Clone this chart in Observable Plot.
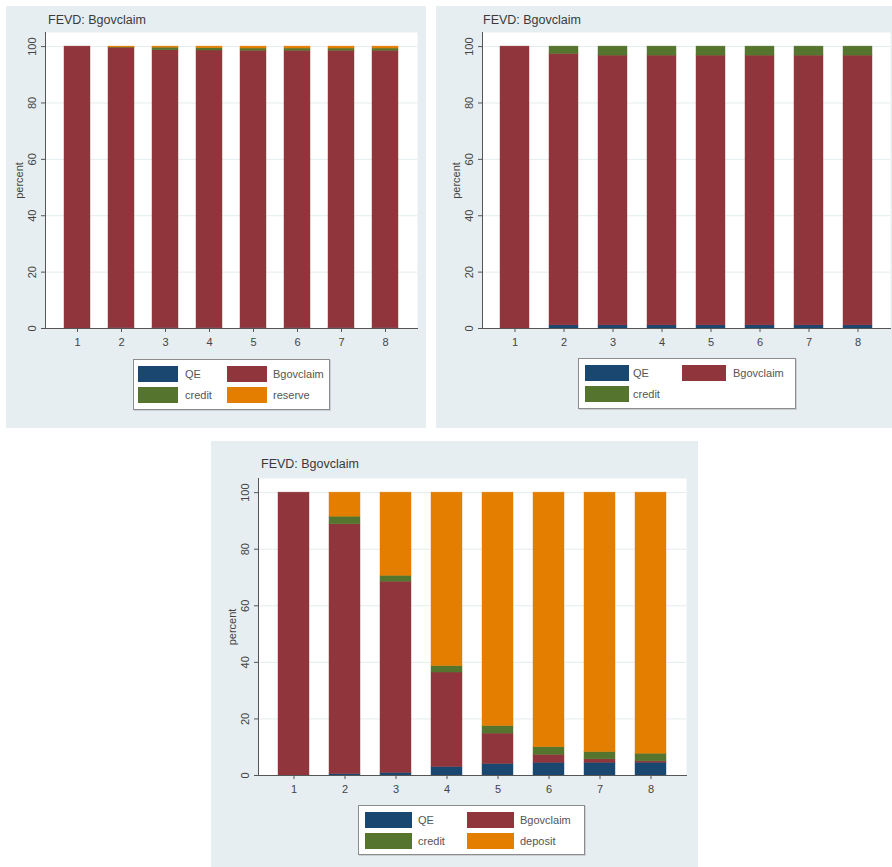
<!DOCTYPE html>
<html>
<head>
<meta charset="utf-8">
<script src="https://cdn.jsdelivr.net/npm/d3@7"></script>
<script src="https://cdn.jsdelivr.net/npm/@observablehq/plot@0.6"></script>
<style>
  html, body { margin: 0; padding: 0; background: #ffffff; }
  #root { position: relative; width: 892px; height: 867px; overflow: hidden; font-family: "Liberation Sans", Arial, sans-serif; }
  .panel { position: absolute; background: #e6eef1; }
  .title { position: absolute; font-size: 12.5px; color: #3a3a3a; white-space: nowrap; }
  .plot { position: absolute; }
  .legend { position: absolute; background: #ffffff; border: 1px solid #8c8c8c; box-shadow: 1px 1px 0 #c9cfd2; }
  .sw { position: absolute; height: 16px; }
  .lt { position: absolute; font-size: 11px; color: #555; line-height: 16px; white-space: nowrap; }
</style>
</head>
<body>
<div id="root"></div>
<script>
// ---- data ----
const periods = [1, 2, 3, 4, 5, 6, 7, 8];
const yTicks = [0, 20, 40, 60, 80, 100];
const seriesColors = { QE: "#1a476f", Bgovclaim: "#90353b", credit: "#55752f", reserve: "#e37e00", deposit: "#e37e00" };

// Panel A: QE, Bgovclaim, credit, reserve
const a_keys = ["QE", "Bgovclaim", "credit", "reserve"];
const a_QE = [0, 0.1, 0.1, 0.1, 0.1, 0.1, 0.1, 0.1];
const a_Bgovclaim = [100, 99.5, 98.6, 98.5, 98.4, 98.4, 98.4, 98.4];
const a_credit = [0, 0.1, 0.9, 0.8, 0.8, 0.8, 0.8, 0.8];
const a_reserve = [0, 0.3, 0.4, 0.6, 0.7, 0.7, 0.7, 0.7];

// Panel B: QE, Bgovclaim, credit
const b_keys = ["QE", "Bgovclaim", "credit"];
const b_QE = [0, 1.1, 1.1, 1.1, 1.1, 1.1, 1.1, 1.1];
const b_Bgovclaim = [100, 96.3, 95.7, 95.7, 95.7, 95.7, 95.7, 95.7];
const b_credit = [0, 2.6, 3.2, 3.2, 3.2, 3.2, 3.2, 3.2];

// Panel C: QE, Bgovclaim, credit, deposit
const c_keys = ["QE", "Bgovclaim", "credit", "deposit"];
const c_QE = [0, 0.5, 0.9, 3.0, 4.1, 4.5, 4.5, 4.5];
const c_Bgovclaim = [100, 88.3, 67.6, 33.4, 10.7, 2.8, 1.2, 0.5];
const c_credit = [0, 2.7, 2.1, 2.3, 2.7, 2.7, 2.6, 2.7];
const c_deposit = [0, 8.5, 29.4, 61.3, 82.5, 90.0, 91.7, 92.3];

const root = document.getElementById("root");

function tidy(keys, arrays) {
  const rows = [];
  keys.forEach((k, i) => periods.forEach((p, j) => rows.push({ period: p, series: k, value: arrays[i][j] })));
  return rows;
}

function makePanel(cfg) {
  const bg = document.createElement("div");
  bg.className = "panel";
  Object.assign(bg.style, { left: cfg.bg[0] + "px", top: cfg.bg[1] + "px", width: cfg.bg[2] + "px", height: cfg.bg[3] + "px" });
  root.appendChild(bg);

  const t = document.createElement("div");
  t.className = "title";
  t.textContent = "FEVD: Bgovclaim";
  Object.assign(t.style, { left: cfg.title[0] + "px", top: cfg.title[1] + "px" });
  root.appendChild(t);

  const data = tidy(cfg.keys, cfg.arrays);
  const chart = Plot.plot({
    width: cfg.svg[2],
    height: cfg.svg[3],
    marginLeft: cfg.m[0], marginRight: cfg.m[1], marginTop: cfg.m[2], marginBottom: cfg.m[3],
    style: { background: "transparent", fontFamily: "Liberation Sans, Arial, sans-serif", fontSize: "11px", color: "#444" },
    x: { domain: periods, paddingInner: 0.4, paddingOuter: cfg.po, label: null },
    y: { domain: [0, 105], label: null },
    color: { domain: cfg.keys, range: cfg.keys.map(k => seriesColors[k]) },
    marks: [
      Plot.frame({ fill: "white", stroke: null }),
      Plot.ruleY(yTicks.slice(1), { stroke: "#e3ecef", strokeWidth: 1 }),
      Plot.barY(data, { x: "period", y: "value", fill: "series", stroke: "series", strokeWidth: 0.6, strokeOpacity: 0.7 }),
      Plot.frame({ anchor: "left", stroke: "#555" }),
      Plot.frame({ anchor: "bottom", stroke: "#555" }),
      Plot.axisY({ ticks: yTicks, tickSize: 4, tickPadding: 6, tickRotate: -90, label: "percent", labelAnchor: "center", labelArrow: "none", labelOffset: 30, stroke: "#555" }),
      Plot.axisX({ tickSize: 4, tickPadding: 6, label: null, stroke: "#555" })
    ]
  });
  chart.classList.add("plot");
  Object.assign(chart.style, { left: cfg.svg[0] + "px", top: cfg.svg[1] + "px" });
  root.appendChild(chart);

  const lg = document.createElement("div");
  lg.className = "legend";
  Object.assign(lg.style, { left: cfg.lg[0] + "px", top: cfg.lg[1] + "px", width: cfg.lg[2] + "px", height: cfg.lg[3] + "px" });
  cfg.keys.forEach((k, i) => {
    const col = i % 2, row = Math.floor(i / 2);
    const sw = document.createElement("div");
    sw.className = "sw";
    Object.assign(sw.style, { left: cfg.lgc[col][0] + "px", top: (6 + row * 21) + "px", width: cfg.sww + "px", background: seriesColors[k] });
    lg.appendChild(sw);
    const tx = document.createElement("div");
    tx.className = "lt";
    tx.textContent = k;
    Object.assign(tx.style, { left: cfg.lgc[col][1] + "px", top: (6 + row * 21) + "px" });
    lg.appendChild(tx);
  });
  root.appendChild(lg);
}

makePanel({
  bg: [6, 6, 420, 422], title: [48, 13],
  svg: [6, 26, 420, 329], m: [39, 9, 6, 27], po: 0.4,
  keys: a_keys, arrays: [a_QE, a_Bgovclaim, a_credit, a_reserve],
  lg: [133, 359, 195, 49], lgc: [[4, 51], [93, 139]], sww: 40
});
makePanel({
  bg: [436, 6, 456, 422], title: [483, 13],
  svg: [436, 26, 456, 329], m: [46, 2, 6, 27], po: 0.35,
  keys: b_keys, arrays: [b_QE, b_Bgovclaim, b_credit],
  lg: [578, 358, 216, 49], lgc: [[6, 54], [103, 154]], sww: 44
});
makePanel({
  bg: [211, 441, 487, 426], title: [261, 457],
  svg: [211, 472, 487, 330], m: [47, 12, 6, 27], po: 0.38,
  keys: c_keys, arrays: [c_QE, c_Bgovclaim, c_credit, c_deposit],
  lg: [358, 805, 225, 48], lgc: [[6, 59], [108, 161]], sww: 47
});
</script>
</body>
</html>
